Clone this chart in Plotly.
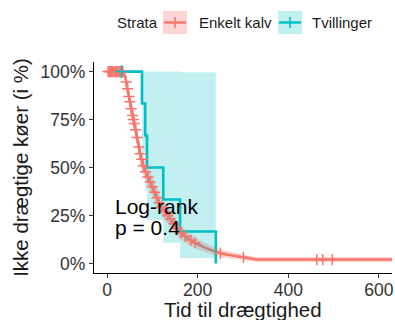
import numpy as np
import plotly.graph_objects as go

# ---------------- data ----------------
strata_title = "Strata"
series_names = ["Enkelt kalv", "Tvillinger"]

# Enkelt kalv KM estimate (days, % not pregnant)
red_t = [0, 36, 40, 45, 51, 57, 62, 68, 74, 81, 90, 100, 112, 122, 132, 144,
         160, 178, 196, 215, 235, 256, 290, 330, 630]
red_s = [100, 100, 97, 91, 83, 76, 71, 63, 56, 50, 45, 40, 33, 28.5, 25.5, 22,
         16.5, 13, 10.5, 8.3, 6.5, 4.9, 3.6, 2.0, 2.0]
red_ci_hw = [0, 0, 1.5, 2.5, 3.5, 4, 4.5, 5, 5, 5, 5, 5, 4.8, 4.5, 4.3, 4,
             3.6, 3.2, 2.8, 2.5, 2.2, 1.9, 1.6, 1.3, 1.3]
red_censor_t = [2, 5, 8, 10, 12, 15, 18, 20, 22, 25, 28, 30, 33, 35,
                42, 45, 48, 50, 53, 56, 58, 60, 63, 66, 70, 73, 76, 80, 85,
                90, 95, 100, 105, 110, 115, 120, 127, 134, 140, 148, 155,
                163, 172, 185, 194, 250, 301, 463, 476, 497]

# Tvillinger KM estimate (step function) with log CI
teal_t = [0, 77, 84, 88, 124, 161, 240]
teal_s = [100, 83.33, 66.67, 50, 33.33, 16.67, 0]
teal_lo = [100, 58.2, 37.9, 22.5, 10.8, 2.8]
teal_hi = [100, 100, 100, 100, 100, 99.7]
teal_censor_t = [32]

x_ticks = [0, 200, 400, 600]
y_ticks = [0, 25, 50, 75, 100]
y_ticklabels = ["0%", "25%", "50%", "75%", "100%"]

pval_text = ["Log-rank", "p = 0.4"]
x_title = "Tid til drægtighed"
y_title = "Ikke drægtige køer (i %)"

RED = "#F8766D"
TEAL = "#00BFC4"
RED_FILL = "rgba(248,118,109,0.3)"
TEAL_FILL = "rgba(0,191,196,0.24)"

W, H = 395, 320
ML, MR, MT, MB = 94, 3, 62, 47

fig = go.Figure()

# lines first (ribbons are drawn over them as in survminer)
fig.add_trace(go.Scatter(x=red_t, y=red_s, mode="lines",
                         line=dict(color=RED, width=2.6), showlegend=False, hoverinfo="skip"))
fig.add_trace(go.Scatter(x=teal_t, y=teal_s, mode="lines",
                         line=dict(color=TEAL, width=2.6, shape="hv"), showlegend=False, hoverinfo="skip"))

# red ribbon
rs = np.array(red_s, dtype=float)
rh = np.array(red_ci_hw, dtype=float)
fig.add_trace(go.Scatter(x=red_t, y=rs - rh, mode="lines", line=dict(width=0, color=RED_FILL),
                         showlegend=False, hoverinfo="skip"))
fig.add_trace(go.Scatter(x=red_t, y=rs + rh, mode="lines", line=dict(width=0, color=RED_FILL),
                         fill="tonexty", fillcolor=RED_FILL, showlegend=False, hoverinfo="skip"))

# teal ribbon (steps)
band_x = teal_t[:-1] + [teal_t[-1]]
band_lo = teal_lo + [teal_lo[-1]]
band_hi = teal_hi + [teal_hi[-1]]
fig.add_trace(go.Scatter(x=band_x, y=band_lo, mode="lines", line=dict(width=0, color=TEAL_FILL, shape="hv"),
                         showlegend=False, hoverinfo="skip"))
fig.add_trace(go.Scatter(x=band_x, y=band_hi, mode="lines", line=dict(width=0, color=TEAL_FILL, shape="hv"),
                         fill="tonexty", fillcolor=TEAL_FILL, showlegend=False, hoverinfo="skip"))

# censor marks
red_censor_s = np.interp(red_censor_t, red_t, red_s)
fig.add_trace(go.Scatter(x=red_censor_t, y=red_censor_s, mode="markers",
                         marker=dict(symbol="cross-thin", size=8, line=dict(color=RED, width=1.5)),
                         showlegend=False, hoverinfo="skip"))
idx = np.searchsorted(teal_t, teal_censor_t, side="right") - 1
teal_censor_s = [teal_s[i] for i in idx]
fig.add_trace(go.Scatter(x=teal_censor_t, y=teal_censor_s, mode="markers",
                         marker=dict(symbol="cross-thin", size=9, line=dict(color=TEAL, width=1.5)),
                         showlegend=False, hoverinfo="skip"))

# p-value annotation
fig.add_annotation(x=13, y=29.5, xref="x", yref="y", text=pval_text[0], showarrow=False,
                   xanchor="left", yanchor="middle", font=dict(size=21, color="black"))
fig.add_annotation(x=13, y=18.8, xref="x", yref="y", text=pval_text[1], showarrow=False,
                   xanchor="left", yanchor="middle", font=dict(size=21, color="black"))

# ---- manual legend / x title (pixel helpers -> paper coords) ----
PW, PH = W - ML - MR, H - MT - MB
def px(x):
    return (x - ML) / PW
def py(y):
    return (H - MB - y) / PH

fig.add_annotation(x=0.5, y=py(296), xref="paper", yref="paper", text=x_title,
                   showarrow=False, xanchor="center", yanchor="top",
                   font=dict(size=20.5, color="#1a1a1a"))

fig.add_annotation(x=px(115), y=py(23), xref="paper", yref="paper", text=strata_title,
                   showarrow=False, xanchor="left", yanchor="middle",
                   font=dict(size=15, color="#1a1a1a"))
keys = [(163, RED, RED_FILL, 197), (278, TEAL, TEAL_FILL, 310)]
for (kx, col, fcol, tx), name in zip(keys, series_names):
    fig.add_shape(type="rect", xref="paper", yref="paper", x0=px(kx), x1=px(kx + 24),
                  y0=py(34), y1=py(11), fillcolor=fcol, line=dict(width=0))
    fig.add_shape(type="line", xref="paper", yref="paper", x0=px(kx + 1), x1=px(kx + 23),
                  y0=py(22.5), y1=py(22.5), line=dict(color=col, width=2.4))
    fig.add_shape(type="line", xref="paper", yref="paper", x0=px(kx + 12), x1=px(kx + 12),
                  y0=py(17), y1=py(28), line=dict(color=col, width=1.6))
    fig.add_annotation(x=px(tx), y=py(23), xref="paper", yref="paper", text=name,
                       showarrow=False, xanchor="left", yanchor="middle",
                       font=dict(size=15, color="#1a1a1a"))

fig.update_layout(
    width=W, height=H,
    margin=dict(l=ML, r=MR, t=MT, b=MB, autoexpand=False),
    paper_bgcolor="white", plot_bgcolor="white",
    font=dict(family="Liberation Sans, Arial, sans-serif", color="#1a1a1a"),
    showlegend=False,
    xaxis=dict(range=[-29, 629], tickvals=x_ticks, ticks="outside", ticklen=4, tickwidth=1.3,
               tickcolor="#333333", showline=True, linecolor="black", linewidth=1.4,
               showgrid=False, zeroline=False, tickfont=dict(size=17.5, color="#333333"),
               ticklabelstandoff=-3),
    yaxis=dict(range=[-5, 105], tickvals=y_ticks, ticktext=y_ticklabels, ticks="outside",
               ticklen=4, tickwidth=1.3, tickcolor="#333333", showline=True, linecolor="black",
               linewidth=1.4, showgrid=False, zeroline=False,
               tickfont=dict(size=17.5, color="#333333"),
               title=dict(text=y_title, font=dict(size=20.5, color="#1a1a1a"), standoff=6)),
)

fig.write_html("out.html")
